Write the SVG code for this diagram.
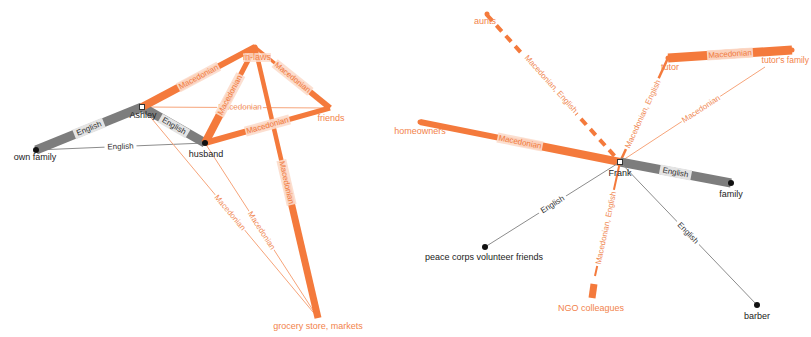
<svg xmlns="http://www.w3.org/2000/svg" width="811" height="337" viewBox="0 0 811 337">
<style>
.g{stroke:#7d7d7d;fill:none}
.o{stroke:#f47a3c;fill:none}
.to{stroke:#f6a47a;stroke-width:1;fill:none}
.tg{stroke:#8c8c8c;stroke-width:1;fill:none}
.el text{font-family:"Liberation Sans",Arial,sans-serif;font-size:8px;text-anchor:middle;dominant-baseline:central}
.el rect{stroke:none}
.lg rect{fill:#e4e4e4}
.lg text{fill:#333}
.lo rect{fill:#fcdccb;opacity:.9}
.lo text{fill:#f07a40}
.lw rect{fill:#fff}
.lw text{fill:#f08a55}
.lwg rect{fill:#fff}
.lwg text{fill:#333}
.nl{font-family:"Liberation Sans",Arial,sans-serif;font-size:9px;text-anchor:middle}
.nk{fill:#222}
.no{fill:#f2834b}
.dk{fill:#111}
.dor{fill:#f47a3c}
.ego{fill:#fff;stroke:#333;stroke-width:1}
</style>
<rect width="811" height="337" fill="#fff"/>
<g id="connectors">
<line class="tg" x1="36" y1="150" x2="205" y2="143"/>
<line class="to" x1="142" y1="107" x2="330" y2="108"/>
<line class="to" x1="142" y1="107" x2="318" y2="318"/>
<line class="to" x1="205" y1="143" x2="318" y2="318"/>
<line class="g" stroke-width="9" x1="36" y1="150" x2="142" y2="107"/>
<line class="g" stroke-width="9" x1="142" y1="107" x2="205" y2="143"/>
<line class="o" stroke-width="8" x1="142" y1="107" x2="198.5" y2="77"/>
<line class="o" stroke-width="6" x1="198.5" y1="77" x2="255" y2="47"/>
<line class="o" stroke-width="4.5" x1="255" y1="47" x2="286.5" y2="182.5"/>
<line class="o" stroke-width="7" x1="286.5" y1="182.5" x2="318" y2="318"/>
<line class="o" stroke-width="5" x1="255" y1="47" x2="230" y2="95"/>
<line class="o" stroke-width="8" x1="230" y1="95" x2="205" y2="143"/>
<line class="o" stroke-width="3" x1="255" y1="47" x2="292.5" y2="77.5"/>
<line class="o" stroke-width="6" x1="292.5" y1="77.5" x2="330" y2="108"/>
<line class="o" stroke-width="5" x1="330" y1="108" x2="267.5" y2="125.5"/>
<line class="o" stroke-width="6" x1="267.5" y1="125.5" x2="205" y2="143"/>
<line class="o" stroke-width="4" stroke-dasharray="8,6" x1="487" y1="15" x2="620" y2="162"/>
<line class="o" stroke-width="6" x1="420" y1="122" x2="520" y2="142"/>
<line class="o" stroke-width="8" x1="520" y1="142" x2="620" y2="162"/>
<line class="o" stroke-width="2.5" x1="620" y1="162" x2="668" y2="58"/>
<line class="o" stroke-width="9" x1="668" y1="58" x2="792" y2="50"/>
<line class="to" x1="620" y1="162" x2="765" y2="67"/>
<line class="g" stroke-width="9" x1="620" y1="162" x2="731" y2="183"/>
<line class="tg" x1="620" y1="162" x2="757" y2="305"/>
<line class="tg" x1="620" y1="162" x2="485" y2="247"/>
<line class="o" stroke-width="2" x1="620" y1="162" x2="595" y2="276"/>
<line class="o" stroke-width="7" x1="594" y1="284" x2="592" y2="298"/>
</g>
<g id="edge-labels">
<g class="el lg" transform="translate(89,128.5) rotate(-22)"><rect x="-16" y="-5" width="32" height="10"/><text>English</text></g>
<g class="el lg" transform="translate(174,126) rotate(30)"><rect x="-16" y="-5" width="32" height="10"/><text>English</text></g>
<g class="el lwg" transform="translate(120.5,146.5) rotate(-2.4)"><rect x="-16" y="-5" width="32" height="10"/><text>English</text></g>
<g class="el lo" transform="translate(198.5,77) rotate(-28)"><rect x="-23" y="-5" width="46" height="10"/><text>Macedonian</text></g>
<g class="el lw" transform="translate(240,107) rotate(0.3)"><rect x="-23" y="-5" width="46" height="10" opacity=".8"/><text>Macedonian</text></g>
<g class="el lw" transform="translate(230,212.5) rotate(50)"><rect x="-23" y="-5" width="46" height="10"/><text>Macedonian</text></g>
<g class="el lw" transform="translate(261.5,230.5) rotate(57)"><rect x="-23" y="-5" width="46" height="10"/><text>Macedonian</text></g>
<g class="el lo" transform="translate(286.5,182.5) rotate(77)"><rect x="-23" y="-5" width="46" height="10"/><text>Macedonian</text></g>
<g class="el lo" transform="translate(230,95) rotate(-62)"><rect x="-23" y="-5" width="46" height="10"/><text>Macedonian</text></g>
<g class="el lo" transform="translate(292.5,77.5) rotate(39)"><rect x="-23" y="-5" width="46" height="10"/><text>Macedonian</text></g>
<g class="el lo" transform="translate(267.5,125.5) rotate(-15.6)"><rect x="-23" y="-5" width="46" height="10"/><text>Macedonian</text></g>
<g class="el lw" transform="translate(551,84) rotate(48)"><rect x="-39" y="-5" width="78" height="10"/><text>Macedonian, English</text></g>
<g class="el lo" transform="translate(520,142) rotate(11.3)"><rect x="-23" y="-5" width="46" height="10"/><text>Macedonian</text></g>
<g class="el lw" transform="translate(643,114) rotate(-65)"><rect x="-39" y="-5" width="78" height="10"/><text>Macedonian, English</text></g>
<g class="el lo" transform="translate(730,54) rotate(-3.7)"><rect x="-23" y="-5" width="46" height="10"/><text>Macedonian</text></g>
<g class="el lw" transform="translate(701,109) rotate(-33)"><rect x="-23" y="-5" width="46" height="10"/><text>Macedonian</text></g>
<g class="el lg" transform="translate(675.5,172.5) rotate(10.7)"><rect x="-16" y="-5" width="32" height="10"/><text>English</text></g>
<g class="el lwg" transform="translate(688,233) rotate(46.2)"><rect x="-16" y="-5" width="32" height="10"/><text>English</text></g>
<g class="el lwg" transform="translate(552.5,204.5) rotate(-32.2)"><rect x="-16" y="-5" width="32" height="10"/><text>English</text></g>
<g class="el lw" transform="translate(606,228) rotate(-78)"><rect x="-39" y="-5" width="78" height="10"/><text>Macedonian, English</text></g>
</g>
<g id="node-ownfamily"><circle class="dk" cx="36" cy="150" r="3"/><text class="nl nk" x="35" y="160">own family</text></g>
<g id="node-ashley"><rect class="ego" x="139.5" y="104.5" width="5" height="5"/><text class="nl nk" x="143" y="118">Ashley</text></g>
<g id="node-husband"><circle class="dk" cx="205" cy="143" r="3"/><text class="nl nk" x="206" y="157">husband</text></g>
<g id="node-inlaws"><circle class="dor" cx="255" cy="47" r="2.5"/><rect x="243" y="53" width="28" height="9" fill="#fcdccb" opacity=".8"/><text class="nl no" x="257" y="60">in-laws</text></g>
<g id="node-friends"><text class="nl no" x="331" y="121">friends</text></g>
<g id="node-grocery"><text class="nl no" x="318" y="329">grocery store, markets</text></g>
<g id="node-frank"><rect class="ego" x="617.5" y="159.5" width="5" height="5"/><text class="nl nk" x="620" y="176">Frank</text></g>
<g id="node-aunts"><circle class="dor" cx="487" cy="14" r="2.5"/><text class="nl no" x="485" y="24">aunts</text></g>
<g id="node-homeowners"><circle class="dor" cx="420" cy="122" r="2.5"/><text class="nl no" x="420" y="134">homeowners</text></g>
<g id="node-tutor"><circle class="dor" cx="668" cy="58" r="2.5"/><text class="nl no" x="670" y="70">tutor</text></g>
<g id="node-tutorsfamily"><circle class="dor" cx="792" cy="50" r="2.5"/><text class="nl no" x="809" y="63" style="text-anchor:end;font-size:8.5px">tutor's family</text></g>
<g id="node-family"><circle class="dk" cx="731" cy="183" r="3"/><text class="nl nk" x="731" y="197">family</text></g>
<g id="node-barber"><circle class="dk" cx="757" cy="305" r="3"/><text class="nl nk" x="757" y="319">barber</text></g>
<g id="node-peacecorps"><circle class="dk" cx="485" cy="247" r="3"/><text class="nl nk" x="484" y="260">peace corps volunteer friends</text></g>
<g id="node-ngo"><text class="nl no" x="591" y="311">NGO colleagues</text></g>
</svg>
